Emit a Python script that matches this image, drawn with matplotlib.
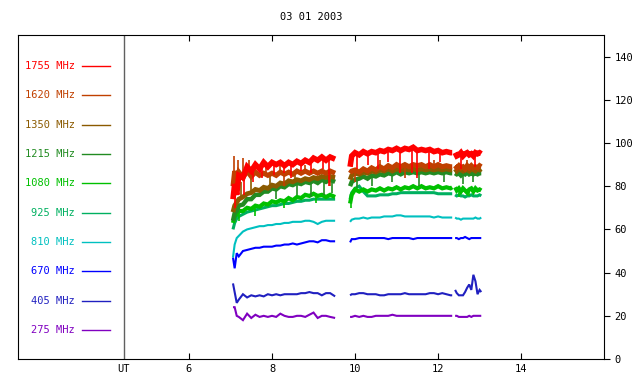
# Radio flux spectrogram style chart, 03 01 2003

import numpy as np
import matplotlib.pyplot as plt

# sample times (UT hours) for the three observing runs
seg1 = [7.06, 7.1, 7.15, 7.2, 7.3, 7.4, 7.5, 7.6, 7.7, 7.8, 7.9, 8.0, 8.1, 8.2,
        8.3, 8.4, 8.5, 8.6, 8.7, 8.8, 8.9, 9.0, 9.1, 9.2, 9.3, 9.4, 9.52]
seg2 = [9.88, 9.92, 10.0, 10.1, 10.2, 10.3, 10.4, 10.5, 10.6, 10.7, 10.8, 10.9,
        11.0, 11.1, 11.2, 11.3, 11.4, 11.5, 11.6, 11.7, 11.8, 11.9, 12.0, 12.1,
        12.2, 12.3, 12.34]
seg3 = [12.41, 12.45, 12.5, 12.55, 12.6, 12.65, 12.7, 12.75, 12.8, 12.85,
        12.9, 12.95, 13.0, 13.04]

freqs = [1755, 1620, 1350, 1215, 1080, 925, 810, 670, 405, 275]
colors = ['#ff0000', '#c04000', '#8b5a00', '#228b22', '#00c000',
          '#00b060', '#00c0c0', '#0000ff', '#2020c0', '#8000c0']

# flux values per frequency: run 1, run 2, run 3
f1755 = [74, 81, 76, 85, 84, 89, 87, 90, 88, 91, 89, 91, 90, 91, 89.5, 91, 90, 91.5, 90.5, 92, 91, 93, 92, 93.5, 92, 93.5, 92.5,
         89, 94, 95.5, 94.5, 96, 95, 96, 95.5, 96.5, 96, 97, 96.5, 97.5, 96.5, 97.5, 97, 98, 96.5, 97, 96.5, 97, 96, 96.5, 95.5, 96, 95.5, 95.5,
         95.5, 94, 94.5, 95.5, 94, 95, 95.5, 94.5, 95, 94, 95.5, 95, 95.5, 95]
f1620 = [80, 87, 83, 86.5, 84, 87, 84.5, 86.5, 85, 86, 85, 86, 85, 86.5, 85.5, 86.5, 85.5, 87, 86, 87, 86, 87, 86, 87, 86, 87, 86,
         86, 87, 87.5, 86.5, 88, 87, 88.5, 87.5, 89, 88, 89.5, 88.5, 90, 89, 90, 89, 90, 89.5, 90, 89, 90, 89, 90, 89, 89.5, 89, 89,
         89.5, 88.5, 89.5, 88.5, 89, 88, 89.5, 88.5, 89.5, 88.5, 89, 88.5, 89.5, 89]
f1350 = [68, 71, 72.5, 74, 75, 76.5, 77, 78.5, 78, 79.5, 79, 80.5, 80, 81.5, 81, 82.5, 82, 83, 82.5, 83.5, 83, 84, 83.5, 84.5, 84, 84.5, 84,
         83, 85, 86, 85.5, 86.5, 86, 87, 86.5, 87.5, 87, 88, 87, 88, 87.5, 88, 87.5, 88, 87.5, 88, 87.5, 88, 87.5, 88, 87.5, 88, 87.5, 87.5,
         88, 87, 88, 87.5, 87, 88, 87.5, 87, 88, 87.5, 87, 88, 87.5, 88]
f1215 = [64, 67.5, 68.5, 71, 71.5, 74, 74, 76, 76, 77.5, 77.5, 79, 78.5, 80, 79.5, 81, 80.5, 81.5, 81, 82, 81.5, 82.5, 81.5, 83, 82, 83, 82,
         80, 82, 83, 83.5, 84.5, 83.5, 85, 84.5, 85.5, 85, 86, 85.5, 86.5, 85.5, 86.5, 86, 86.5, 86, 86.5, 86, 86.5, 86, 86.5, 86, 86.5, 86, 86,
         86, 85.5, 86, 85, 86, 85.5, 86.5, 85.5, 86, 85.5, 86, 85.5, 86, 86]
f1080 = [63, 66, 67, 68.5, 68.5, 70, 69.5, 71, 70.5, 72, 71.5, 73, 72.5, 73.5, 73, 74.5, 73.5, 75, 74.5, 76, 75.5, 76.5, 75.5, 76, 75, 76, 75,
         72, 76, 78.5, 77.5, 78.5, 77.5, 78.5, 78, 79, 78, 79, 78.5, 79.5, 78.5, 79.5, 79, 80, 79, 80, 79, 79.5, 79, 80, 79, 79.5, 79, 79.5,
         79.5, 78, 79, 77.5, 79, 78, 77, 78.5, 79, 77.5, 79, 78, 78.5, 78]
f925 = [60, 63, 65, 66, 67, 68, 68.5, 69, 69.5, 70, 70.5, 71, 71, 71.5, 72, 72, 72.5, 73, 73, 73.5, 73.5, 74, 74, 74, 74, 74, 74,
        74, 77, 79, 80, 77.5, 75.5, 75.5, 75.5, 76, 76, 76, 76.5, 76.5, 77, 77, 77, 77, 77, 77, 77, 77, 77, 76.5, 76.5, 76.5, 76.5, 76.5,
        76, 75.5, 76, 75.5, 75.5, 75, 75.5, 75.5, 76, 75.5, 75.5, 75.5, 76, 75.5]
f810 = [47, 53, 56, 57, 59, 60, 60.5, 61, 61.5, 61.5, 62, 62, 62.5, 62.5, 63, 63, 63.5, 63.5, 63.5, 64, 64, 63.5, 62.5, 63.5, 64, 64, 64,
        63.5, 64.5, 65, 65, 65.5, 65, 65.5, 65.5, 65.5, 66, 66, 66, 66.5, 66.5, 66, 66, 66, 66, 66, 66, 66, 65.5, 66, 65.5, 65.5, 65.5, 65.5,
        65.5, 65, 65, 64.5, 65, 65, 65, 65, 65, 65, 65.5, 65, 65, 65.5]
f670 = [47, 42, 49, 47.5, 50, 50.5, 51, 51.5, 51.5, 52, 52, 52, 52.5, 52.5, 53, 53, 53.5, 53, 53.5, 54, 54.5, 54.5, 54, 55, 55, 54.5, 54.5,
        54, 55.5, 55.5, 56, 56, 56, 56, 56, 56, 56, 55.5, 56, 56, 56, 56, 56, 55.5, 56, 56, 56, 56, 56, 56, 56, 56, 56, 56,
        56, 56, 55.5, 56, 56, 56.5, 56, 55.5, 56, 56, 56, 56, 56, 56]
f405 = [35, 31, 26, 27.5, 30, 28.5, 29.5, 29, 29.5, 29, 30, 29.5, 30, 29.5, 30, 30, 30, 30, 30.5, 30.5, 31, 30.5, 30.5, 29.5, 30.5, 30.5, 29,
        29.5, 30, 30, 30.5, 30.5, 30, 30, 30, 29.5, 29.5, 30, 30, 30, 30, 30.5, 30, 30, 30, 30, 30, 30.5, 30.5, 30, 30.5, 30, 29.5, 29.5,
        32, 30.5, 29.5, 29.5, 29.5, 31, 33, 34.5, 32, 39, 36, 30, 32, 31]
f275 = [24, 24, 20, 19.5, 18, 21, 19, 20.5, 19.5, 20, 19.5, 20, 19.5, 21, 20, 19.5, 19.5, 20, 20, 19.5, 20.5, 21.5, 19, 20, 20, 19.5, 19,
        19.5, 19.5, 20, 19.5, 20, 19.5, 19.5, 20, 20, 20, 20, 20.5, 20, 20, 20, 20, 20, 20, 20, 20, 20, 20, 20, 20, 20, 20, 20,
        20, 20, 19.5, 19.5, 19.5, 19.5, 19.5, 20, 19.5, 20, 20, 20, 20, 20]
series = [f1755, f1620, f1350, f1215, f1080, f925, f810, f670, f405, f275]

# short spikes seen in the noisy channels: (time, spike end value)
spikes = {
    1755: ([7.12, 7.33, 7.55, 7.75, 8.05, 8.3, 8.45, 8.7, 8.95, 9.22, 9.38, 10.05, 10.3, 10.55, 10.8,
            11.08, 11.38, 11.5, 11.78, 12.05, 12.55, 12.9],
           [70, 76, 82, 84, 85, 86, 84, 87, 86, 88, 80, 88, 90, 88, 91, 86, 86, 84, 88, 91, 88, 89]),
    1620: ([7.08, 7.18, 7.3, 7.45, 7.6, 7.85, 8.2, 8.3, 8.8, 9.4, 10.0, 10.6, 11.2, 11.9, 12.7],
           [94, 92, 93, 92, 91, 91, 92, 80, 90, 80, 82, 92, 84, 92, 92]),
    1350: ([7.25, 7.5, 7.95, 8.55], [82, 84, 85, 86]),
    1215: ([8.1, 8.6, 8.95, 9.25, 9.45, 10.05, 10.4, 10.9, 11.55, 12.15, 12.6, 12.85],
           [74, 76, 75, 76, 77, 79, 80, 82, 80, 82, 81, 82]),
    1080: ([7.2, 7.6, 8.3, 9.05, 9.9, 12.5, 12.75], [64, 66, 70, 72, 70, 75, 75.5]),
}

widths = [4.0, 3.6, 3.4, 3.2, 3.0, 2.2, 1.5, 1.5, 1.5, 1.5]

plt.rcParams['font.family'] = 'DejaVu Sans Mono'
fig = plt.figure(figsize=(6.4, 3.84), dpi=100)
ax = fig.add_axes([0.028, 0.065, 0.916, 0.844])

t_all = np.array(seg1 + seg2 + seg3)
cuts = [0, len(seg1), len(seg1) + len(seg2), len(t_all)]

# draw low frequencies first so the high ones end up on top
for freq, vals, col, lw in list(zip(freqs, series, colors, widths))[::-1]:
    v = np.array(vals, dtype=float)
    for a, b in zip(cuts[:-1], cuts[1:]):
        ax.plot(t_all[a:b], v[a:b], color=col, lw=lw, solid_joinstyle='miter',
                solid_capstyle='butt')
    if freq in spikes:
        st, sv = spikes[freq]
        base = np.interp(st, t_all, v)
        ax.vlines(st, base, sv, color=col, lw=1.2)

# legend block on the left
for i, (freq, col) in enumerate(zip(freqs, colors)):
    y = 135.7 - i * 13.58
    ax.text(3.25, y, f'{freq} MHz', color=col, fontsize=7.5, ha='right', va='center')
    ax.plot([3.42, 4.10], [y, y], color=col, lw=1)

ax.axvline(4.43, color='#606060', lw=1)

ax.set_xlim(1.88, 16)
ax.set_ylim(0, 150)
ax.set_xticks([4.43, 6, 8, 10, 12, 14], ['UT', '6', '8', '10', '12', '14'])
ax.tick_params(axis='x', direction='in', top=True, length=4, labelsize=7.5)
ut_tick = ax.xaxis.get_major_ticks()[0]
ut_tick.tick1line.set_visible(False)
ut_tick.tick2line.set_visible(False)
ax.yaxis.tick_right()
ax.set_yticks(range(0, 141, 20))
ax.tick_params(axis='y', direction='out', length=4, labelsize=7.5)
ax.set_title('03 01 2003', fontsize=7.5, pad=11)

fig.savefig('out.png', dpi=100)
